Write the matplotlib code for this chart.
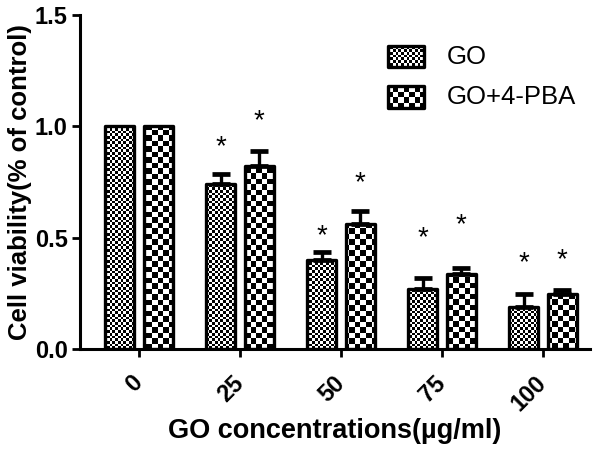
import numpy as np
import matplotlib
matplotlib.use('Agg')
import matplotlib.pyplot as plt
from matplotlib.patches import Rectangle

# data
concentrations = ['0', '25', '50', '75', '100']
go_mean = [1.0, 0.74, 0.40, 0.27, 0.19]
go_err = [0.0, 0.045, 0.035, 0.05, 0.055]
pba_mean = [1.0, 0.82, 0.56, 0.335, 0.245]
pba_err = [0.0, 0.07, 0.06, 0.03, 0.02]
# asterisk heights (None = no mark)
go_star = [None, 0.945, 0.545, 0.535, 0.425]
pba_star = [None, 1.06, 0.785, 0.595, 0.435]
series_names = ['GO', 'GO+4-PBA']

plt.rcParams['font.family'] = ['Liberation Sans', 'DejaVu Sans']

fig = plt.figure(figsize=(6, 4.49), dpi=100)
ax = fig.add_axes([80/600, 1-349/449, 510/600, 334/449])

x = np.arange(len(concentrations))
w = 0.29
off = 0.19
xlim = (-0.584, 4.465)
ylim = (0, 1.5)


def checker(patch, cell):
    # checkerboard image over the whole axes, clipped to one patch
    nx = int(round(510/cell))
    ny = int(round(334/cell))
    board = (np.add.outer(np.arange(ny), np.arange(nx)) % 2).astype(float)
    im = ax.imshow(board, cmap='gray', vmin=0, vmax=1, interpolation='nearest',
                   extent=(xlim[0], xlim[1], ylim[0], ylim[1]), aspect='auto',
                   origin='lower', zorder=2)
    im.set_clip_path(patch)
    return im


go_bars = ax.bar(x - off, go_mean, w, facecolor='none', edgecolor='black',
                 linewidth=2.4, joinstyle='round', zorder=3)
pba_bars = ax.bar(x + off, pba_mean, w, facecolor='none', edgecolor='black',
                  linewidth=2.4, joinstyle='round', zorder=3)
for b in go_bars:
    checker(b, 2.7)
for b in pba_bars:
    checker(b, 5.5)

for xs, m, e in [(x - off, go_mean, go_err), (x + off, pba_mean, pba_err)]:
    xs2 = [xx for xx, ee in zip(xs, e) if ee > 0]
    m2 = [mm for mm, ee in zip(m, e) if ee > 0]
    e2 = [ee for ee in e if ee > 0]
    ax.errorbar(xs2, m2, yerr=[np.zeros(len(e2)), e2], fmt='none', ecolor='black',
                elinewidth=2.4, capsize=6.5, capthick=3.4, zorder=2.5)

fs_star = 20
for xs, stars in [(x - off, go_star), (x + off, pba_star)]:
    for xx, s in zip(xs, stars):
        if s is None:
            continue
        ax.annotate('*', (xx, s), xytext=(0, -0.56*fs_star), textcoords='offset points',
                    ha='center', va='baseline', fontsize=fs_star)

ax.set_xlim(*xlim)
ax.set_ylim(*ylim)
ax.set_yticks([0, 0.5, 1.0, 1.5])
ax.set_yticklabels(['0.0', '0.5', '1.0', '1.5'], fontsize=17, fontweight='bold')
ax.set_xticks(x)
ax.set_xticklabels(concentrations, rotation=45, ha='right', va='center',
                   rotation_mode='anchor', fontsize=17, fontweight='bold')

ax.spines['top'].set_visible(False)
ax.spines['right'].set_visible(False)
ax.spines['left'].set_linewidth(2.2)
ax.spines['bottom'].set_linewidth(2.2)
ax.tick_params(axis='both', length=6, width=2, direction='out', pad=3)
ax.tick_params(axis='x', pad=16)

ax.set_ylabel('Cell viability(% of control)', fontsize=18.5, fontweight='bold', labelpad=2)
ax.set_xlabel('GO concentrations(µg/ml)', fontsize=19.5, fontweight='bold', labelpad=2)

# legend drawn by hand so the swatches can carry the checker pattern
for i, (name, cell) in enumerate(zip(series_names, [2.7, 5.5])):
    yc = 0.875 - i*0.12
    r = Rectangle((0.604, yc - 0.032), 0.07, 0.064, transform=ax.transAxes,
                  facecolor='none', edgecolor='black', linewidth=2.4,
                  joinstyle='round', zorder=3)
    ax.add_patch(r)
    checker(r, cell)
    ax.text(0.72, yc, name, transform=ax.transAxes, fontsize=18.5, va='center', ha='left')

fig.savefig('out.png', dpi=100)
